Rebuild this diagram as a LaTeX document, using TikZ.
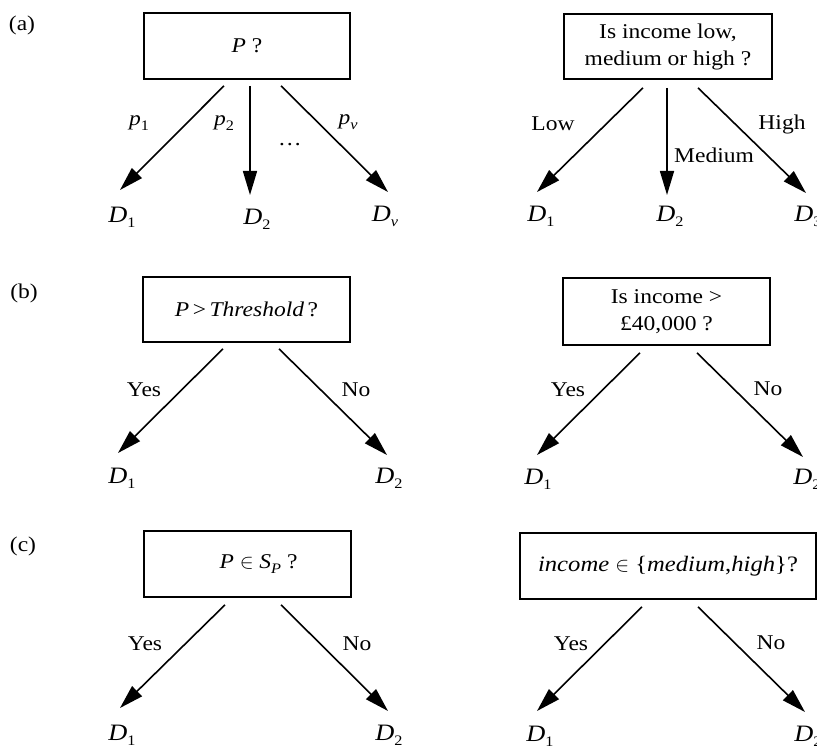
\documentclass[tikz,border=0pt]{standalone}
\usepackage{fontspec}
\setmainfont{Liberation Serif}[FakeStretch=1.12]
\usetikzlibrary{arrows.meta}
% lowered, smaller index for D_1, p_1, S_P ...
\newcommand{\lowsub}[1]{\raisebox{-0.45ex}{\fontsize{14.5}{14.5}\selectfont #1}}
\begin{document}
\begin{tikzpicture}[x=1pt,y=-1pt,
  every node/.style={font=\fontsize{21}{27}\selectfont, inner sep=0pt},
  qbox/.style={draw, line width=1.7pt, align=center, minimum height=66pt},
  arr/.style={line width=1.6pt, -{Triangle[length=24pt,width=14pt]}},
  dnode/.style={font=\fontsize{23.5}{27}\selectfont\itshape},
  tag/.style={font=\fontsize{21}{27}\selectfont}]
\useasboundingbox (0,0) rectangle (817,751);

% ---------- (a) ----------
\node[tag] (tagA) at (22,25) {(a)};
\node[qbox, minimum width=206pt] (qa1) at (247,46) {\textit{P} ?};
\coordinate (ta1) at (120,190);
\coordinate (ta2) at (250,195);
\coordinate (ta3) at (388,192);
\node[dnode] (da1) at (122,217) {D\lowsub{\upshape 1}};
\node[dnode] (da2) at (257,219) {D\lowsub{\upshape 2}};
\node[dnode] (da3) at (385,216) {D\lowsub{\itshape v}};
\draw[arr] ([xshift=-23pt,yshift=-6pt]qa1.south) -- (ta1);
\draw[arr] ([xshift=3pt,yshift=-6pt]qa1.south) -- (ta2);
\draw[arr] ([xshift=34pt,yshift=-6pt]qa1.south) -- (ta3);
\node (pa1) at (139,123) {\textit{p}\lowsub{1}};
\node (pa2) at (224,123) {\textit{p}\lowsub{2}};
\node (pa3) at (348,122) {\textit{p}\lowsub{\itshape v}};
\node (dots) at (290,145) {\dots};

\node[qbox, minimum width=208pt, minimum height=65pt] (qa2) at (668,46.5)
  {Is income low,\\medium or high ?};
\coordinate (tb1) at (537,192);
\coordinate (tb2) at (667,195);
\coordinate (tb3) at (806,193);
\node[dnode] (db1) at (541,216) {D\lowsub{\upshape 1}};
\node[dnode] (db2) at (670,216) {D\lowsub{\upshape 2}};
\node[dnode] (db3) at (808,216) {D\lowsub{\upshape 3}};
\draw[arr] ([xshift=-25pt,yshift=-8pt]qa2.south) -- (tb1);
\draw[arr] ([xshift=-1pt,yshift=-8pt]qa2.south) -- (tb2);
\draw[arr] ([xshift=30pt,yshift=-8pt]qa2.south) -- (tb3);
\node (low) at (553,124) {Low};
\node (med) at (714,155) {Medium};
\node (high) at (782,124) {High};

% ---------- (b) ----------
\node[tag] (tagB) at (24,293) {(b)};
\node[qbox, minimum width=207pt, minimum height=65pt] (qb1) at (246.5,309.5)
  {\textit{P}\,>\,\textit{Threshold}\,?};
\coordinate (tc1) at (118,453);
\coordinate (tc2) at (387,455);
\node[dnode] (dc1) at (122,478) {D\lowsub{\upshape 1}};
\node[dnode] (dc2) at (389,478) {D\lowsub{\upshape 2}};
\draw[arr] ([xshift=-23.5pt,yshift=-6pt]qb1.south) -- (tc1);
\draw[arr] ([xshift=32.5pt,yshift=-6pt]qb1.south) -- (tc2);
\node (yesb1) at (144,390) {Yes};
\node (nob1) at (356,390) {No};

\node[qbox, minimum width=207pt, minimum height=67pt] (qb2) at (666.5,311.5)
  {Is income >\\£40,000 ?};
\coordinate (td1) at (537,455);
\coordinate (td2) at (803,457);
\node[dnode] (dd1) at (538,479) {D\lowsub{\upshape 1}};
\node[dnode] (dd2) at (807,479) {D\lowsub{\upshape 2}};
\draw[arr] ([xshift=-26.5pt,yshift=-7pt]qb2.south) -- (td1);
\draw[arr] ([xshift=30.5pt,yshift=-7pt]qb2.south) -- (td2);
\node (yesb2) at (568,390) {Yes};
\node (nob2) at (768,389) {No};

% ---------- (c) ----------
\node[tag] (tagC) at (23,546) {(c)};
\node[qbox, minimum width=207pt] (qc1) at (247.5,564)
  {\hspace{22pt}\textit{P} $\in$ \textit{S}\lowsub{\itshape P} ?};
\coordinate (te1) at (120,708);
\coordinate (te2) at (388,711);
\node[dnode] (de1) at (122,735) {D\lowsub{\upshape 1}};
\node[dnode] (de2) at (389,735) {D\lowsub{\upshape 2}};
\draw[arr] ([xshift=-22.5pt,yshift=-7pt]qc1.south) -- (te1);
\draw[arr] ([xshift=33.5pt,yshift=-7pt]qc1.south) -- (te2);
\node (yesc1) at (145,644) {Yes};
\node (noc1) at (357,644) {No};

\node[qbox, minimum width=296pt, font=\fontsize{22}{27}\selectfont] (qc2) at (668,566)
  {\textit{income} $\in$ \{\textit{medium},\textit{high}\}?};
\coordinate (tf1) at (537,711);
\coordinate (tf2) at (805,712);
\node[dnode] (df1) at (540,736) {D\lowsub{\upshape 1}};
\node[dnode] (df2) at (808,736) {D\lowsub{\upshape 2}};
\draw[arr] ([xshift=-26pt,yshift=-7pt]qc2.south) -- (tf1);
\draw[arr] ([xshift=30pt,yshift=-7pt]qc2.south) -- (tf2);
\node (yesc2) at (571,644) {Yes};
\node (noc2) at (771,643) {No};
\end{tikzpicture}
\end{document}
